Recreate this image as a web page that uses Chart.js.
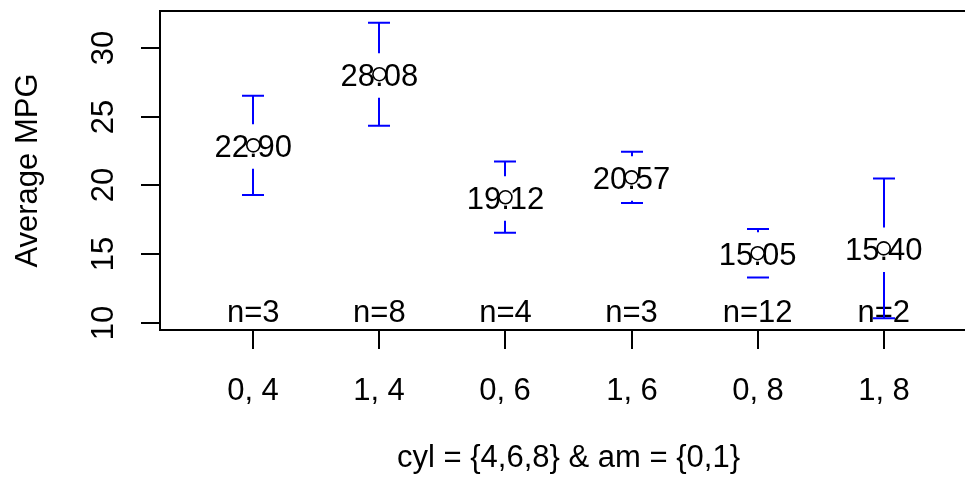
<!DOCTYPE html>
<html>
<head>
<meta charset="utf-8">
<script src="https://cdn.jsdelivr.net/npm/chart.js@4"></script>
<style>
    html, body { margin: 0; padding: 0; background: #fff; overflow: hidden; }
</style>
</head>
<body>
<canvas id="meansChart" width="980" height="482"></canvas>
<script>
// group labels (am, cyl)
const categories = ['0, 4', '1, 4', '0, 6', '1, 6', '0, 8', '1, 8'];
// group means of mpg and their 95% confidence limits
const means = [22.90, 28.08, 19.12, 20.57, 15.05, 15.40];
const lower = [19.29, 24.33, 16.53, 18.70, 13.29, 10.32];
const upper = [26.51, 31.82, 21.72, 22.43, 16.81, 20.48];
const counts = [3, 8, 4, 3, 12, 2];
const yTicks = [10, 15, 20, 25, 30];

const FONT = '31px "Liberation Sans", Arial, Helvetica, sans-serif';

const plotMeansPlugin = {
    id: 'plotMeans',
    beforeDatasetsDraw(chart) {
        const ctx = chart.ctx;
        const xs = chart.scales.x;
        const ys = chart.scales.y;
        ctx.save();
        ctx.font = FONT;
        ctx.textAlign = 'center';
        ctx.textBaseline = 'alphabetic';
        ctx.fillStyle = '#000';

        // n= labels along the bottom
        counts.forEach((n, i) => {
            ctx.fillText('n=' + n, xs.getPixelForValue(i + 1), 321.5);
        });

        // confidence bars, broken around the mean label
        ctx.strokeStyle = '#0000ff';
        ctx.lineWidth = 2;
        const capHalf = 11;
        const gapUp = 21, gapDown = 23.5;
        means.forEach((m, i) => {
            const px = Math.round(xs.getPixelForValue(i + 1));
            const py = ys.getPixelForValue(m);
            const yHi = ys.getPixelForValue(upper[i]);
            const yLo = ys.getPixelForValue(lower[i]);
            ctx.beginPath();
            if (py - gapUp > yHi) { ctx.moveTo(px, yHi); ctx.lineTo(px, py - gapUp); }
            if (py + gapDown < yLo) { ctx.moveTo(px, py + gapDown); ctx.lineTo(px, yLo); }
            ctx.moveTo(px - capHalf, yHi); ctx.lineTo(px + capHalf, yHi);
            ctx.moveTo(px - capHalf, yLo); ctx.lineTo(px + capHalf, yLo);
            ctx.stroke();
        });

        // mean values written at the points
        ctx.fillStyle = '#000';
        means.forEach((m, i) => {
            ctx.fillText(m.toFixed(2), xs.getPixelForValue(i + 1), ys.getPixelForValue(m) + 12);
        });
        ctx.restore();
    },
    afterDraw(chart) {
        const ctx = chart.ctx;
        const area = chart.chartArea;
        const xs = chart.scales.x;
        const ys = chart.scales.y;
        ctx.save();
        ctx.strokeStyle = '#000';
        ctx.lineWidth = 2;

        // box (right side falls outside the window)
        ctx.strokeRect(area.left, area.top, area.right - area.left, area.bottom - area.top);

        // y axis ticks and rotated labels
        ctx.font = FONT;
        ctx.fillStyle = '#000';
        ctx.textAlign = 'center';
        ctx.textBaseline = 'alphabetic';
        yTicks.forEach(v => {
            const y = Math.round(ys.getPixelForValue(v));
            ctx.beginPath();
            ctx.moveTo(area.left - 19, y);
            ctx.lineTo(area.left, y);
            ctx.stroke();
            ctx.save();
            ctx.translate(113, y);
            ctx.rotate(-Math.PI / 2);
            ctx.fillText(String(v), 0, 0);
            ctx.restore();
        });

        // x axis ticks and labels
        categories.forEach((c, i) => {
            const x = Math.round(xs.getPixelForValue(i + 1));
            ctx.beginPath();
            ctx.moveTo(x, area.bottom);
            ctx.lineTo(x, area.bottom + 19);
            ctx.stroke();
            ctx.fillText(c, x, 400);
        });

        // axis titles
        ctx.fillText('cyl = {4,6,8} & am = {0,1}', (area.left + area.right) / 2, 466.5);
        ctx.save();
        ctx.translate(37, (area.top + area.bottom) / 2);
        ctx.rotate(-Math.PI / 2);
        ctx.fillText('Average MPG', 0, 0);
        ctx.restore();
        ctx.restore();
    }
};

new Chart(document.getElementById('meansChart'), {
    type: 'scatter',
    data: {
        datasets: [{
            label: 'means',
            data: means.map((m, i) => ({ x: i + 1, y: m })),
            pointRadius: 6.5,
            pointBackgroundColor: '#ffffff',
            pointBorderColor: '#000000',
            pointBorderWidth: 1.6,
            showLine: false
        }]
    },
    options: {
        responsive: false,
        animation: false,
        events: [],
        layout: { autoPadding: false, padding: { left: 160, top: 11, right: 3, bottom: 152 } },
        plugins: { legend: { display: false }, tooltip: { enabled: false } },
        scales: {
            x: { type: 'linear', min: 0.26, max: 6.74, display: false },
            y: { type: 'linear', min: 9.46, max: 32.68, display: false }
        }
    },
    plugins: [plotMeansPlugin]
});
</script>
</body>
</html>
